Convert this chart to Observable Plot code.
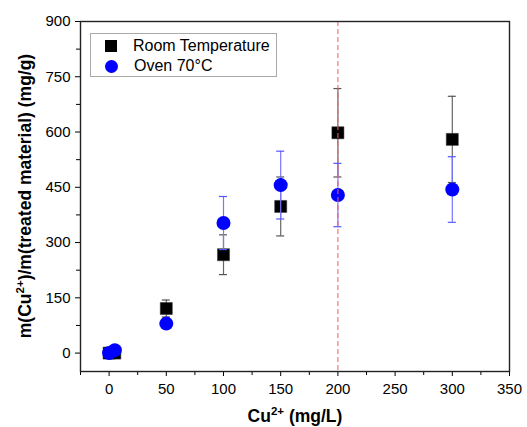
<!DOCTYPE html>
<html>
<head>
<meta charset="utf-8">
<script src="https://cdn.jsdelivr.net/npm/d3@7"></script>
<script src="https://cdn.jsdelivr.net/npm/@observablehq/plot@0.6"></script>
<style>
  body { margin: 0; background: #fff; font-family: "Liberation Sans", Arial, sans-serif; }
  #wrap { position: relative; width: 527px; height: 427px; }
  #legend { position: absolute; left: 90px; top: 33px; width: 187px; height: 44px; border: 1px solid #aaa; background: #fff; box-sizing: border-box; font-size: 16px; color: #000; }
  .row { position: absolute; left: 0; height: 20px; display: flex; align-items: center; white-space: nowrap; }
  .sym { display: inline-block; margin-left: 14px; margin-right: 16px; flex: none; }
</style>
</head>
<body>
<div id="wrap"></div>
<script>
const concentrations = [0, 5, 50, 100, 150, 200, 300];
const roomTemp = [0, 0, 121, 267, 398, 598, 580];
const roomTempErr = [0, 0, 23, 54, 80, 120, 117];
const oven70 = [0, 8, 80, 353, 456, 429, 444];
const oven70Err = [0, 0, 5, 72, 92, 86, 89];
const xMajorTicks = [0, 50, 100, 150, 200, 250, 300, 350];
const xMinorTicks = [-25, 25, 75, 125, 175, 225, 275, 325];
const yMajorTicks = [0, 150, 300, 450, 600, 750, 900];
const yMinorTicks = [75, 225, 375, 525, 675, 825];
const refLine = [200];
const seriesNames = ["Room Temperature", "Oven 70°C"];

const room = concentrations.map((x, i) => ({x, y: roomTemp[i], e: roomTempErr[i]}));
const oven = concentrations.map((x, i) => ({x, y: oven70[i], e: oven70Err[i]}));
const capHalf = 3.5;

const chart = Plot.plot({
  width: 527,
  height: 427,
  marginLeft: 80,
  marginRight: 18,
  marginTop: 21,
  marginBottom: 56,
  style: {fontFamily: "Liberation Sans, Arial, sans-serif", fontSize: "15px", color: "#000", background: "#fff"},
  x: {domain: [-25, 350], label: null},
  y: {domain: [-50, 900], label: null},
  marks: [
    Plot.axisX({ticks: xMinorTicks, tickSize: 4, tickFormat: () => "", label: null}),
    Plot.axisX({ticks: xMajorTicks, tickSize: 5, tickPadding: 7, label: null, fontSize: 15}),
    Plot.axisY({ticks: yMinorTicks, tickSize: 4, tickFormat: () => "", label: null}),
    Plot.axisY({ticks: yMajorTicks, tickSize: 5, tickPadding: 5, label: null, fontSize: 15}),
    // Room temperature error bars
    Plot.ruleX(room.filter(d => d.e > 0), {x: "x", y1: d => d.y - d.e, y2: d => d.y + d.e, stroke: "#666", strokeWidth: 1.2}),
    Plot.ruleY(room.filter(d => d.e > 0), {y: d => d.y - d.e, x1: d => d.x - capHalf, x2: d => d.x + capHalf, stroke: "#555", strokeWidth: 1.2}),
    Plot.ruleY(room.filter(d => d.e > 0), {y: d => d.y + d.e, x1: d => d.x - capHalf, x2: d => d.x + capHalf, stroke: "#555", strokeWidth: 1.2}),
    Plot.dot(room, {x: "x", y: "y", symbol: "square", r: 6.8, fill: "#000", stroke: "#333", strokeWidth: 0.5}),
    // Oven error bars
    Plot.ruleX(oven.filter(d => d.e > 0), {x: "x", y1: d => d.y - d.e, y2: d => d.y + d.e, stroke: "#7777ff", strokeWidth: 1.2}),
    Plot.ruleY(oven.filter(d => d.e > 0), {y: d => d.y - d.e, x1: d => d.x - capHalf, x2: d => d.x + capHalf, stroke: "#5555ff", strokeWidth: 1.2}),
    Plot.ruleY(oven.filter(d => d.e > 0), {y: d => d.y + d.e, x1: d => d.x - capHalf, x2: d => d.x + capHalf, stroke: "#5555ff", strokeWidth: 1.2}),
    Plot.dot(oven, {x: "x", y: "y", r: 7, fill: "#0000ff"}),
    Plot.ruleX(refLine, {x: d => d, stroke: "#ff5a5a", strokeOpacity: 0.85, strokeWidth: 1.2, strokeDasharray: "5,3"}),
    Plot.frame({stroke: "#222", strokeWidth: 1.4})
  ]
});

const wrap = document.getElementById("wrap");
wrap.appendChild(chart);

// Axis titles with superscripts
const svg = d3.select(chart);
const yt = svg.append("text")
  .attr("transform", "translate(31,196) rotate(-90)")
  .attr("text-anchor", "middle")
  .attr("font-weight", "bold")
  .attr("font-size", 17.5)
  .attr("fill", "#000");
yt.append("tspan").text("m(Cu");
yt.append("tspan").attr("font-size", 11.5).attr("dy", -7).text("2+");
yt.append("tspan").attr("dy", 7).text(")/m(treated material) (mg/g)");

const xt = svg.append("text")
  .attr("x", 295)
  .attr("y", 422)
  .attr("text-anchor", "middle")
  .attr("font-weight", "bold")
  .attr("font-size", 17.5)
  .attr("fill", "#000");
xt.append("tspan").text("Cu");
xt.append("tspan").attr("font-size", 11.5).attr("dy", -7).text("2+");
xt.append("tspan").attr("dy", 7).text(" (mg/L)");

// Legend
const legend = document.createElement("div");
legend.id = "legend";
legend.innerHTML = `
  <div class="row" style="top:2px"><span class="sym" style="width:12px;height:12px;background:#000"></span><span>${seriesNames[0]}</span></div>
  <div class="row" style="top:22px"><span class="sym" style="width:13px;height:13px;border-radius:50%;background:#0000ff"></span><span>${seriesNames[1]}</span></div>`;
wrap.appendChild(legend);
</script>
</body>
</html>
